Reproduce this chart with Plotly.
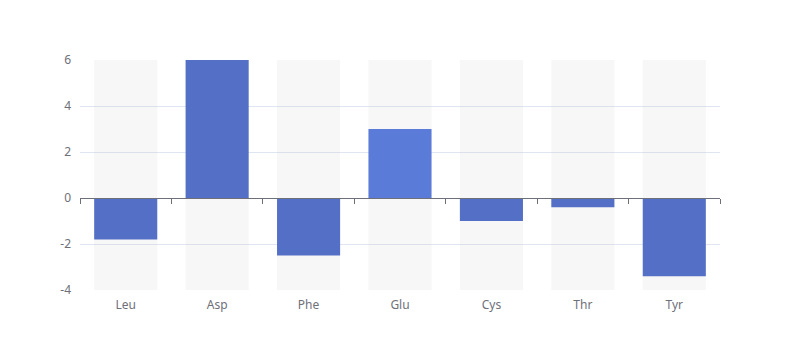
import plotly.graph_objects as go

categories = ["Leu", "Asp", "Phe", "Glu", "Cys", "Thr", "Tyr"]
values = [-1.8, 6, -2.5, 3, -1, -0.4, -3.4]
y_min, y_max = -4, 6
y_ticks = [-4, -2, 0, 2, 4, 6]
y_tick_labels = ["-4", "-2", "0", "2", "4", "6"]

base_color = "#5470c6"
highlight_color = "#5b7bd8"
colors = [highlight_color if c == "Glu" else base_color for c in categories]

fig = go.Figure()
# background bars (full range)
fig.add_trace(go.Bar(
    x=categories, y=[y_max - y_min] * len(categories), base=[y_min] * len(categories),
    marker=dict(color="rgba(180,180,180,0.1)", line=dict(width=0)),
    width=0.69, hoverinfo="skip", showlegend=False,
))
fig.add_trace(go.Bar(
    x=categories, y=values, marker=dict(color=colors, line=dict(width=0)),
    width=0.69, showlegend=False,
))
# invisible trace for the zero axis line with boundary ticks
fig.add_trace(go.Scatter(
    x=categories, y=[None] * len(categories), xaxis="x2", yaxis="y",
    showlegend=False, hoverinfo="skip",
))

font = dict(family="Noto Sans, DejaVu Sans, sans-serif", size=12, color="#6E7079")
fig.update_layout(
    width=800, height=360,
    margin=dict(l=72, r=88, t=52, b=78),
    paper_bgcolor="white", plot_bgcolor="white",
    barmode="overlay",
    font=font,
    xaxis=dict(
        type="category", categoryorder="array", categoryarray=categories,
        range=[-0.5, len(categories) - 0.5],
        showline=False, showgrid=False, zeroline=False, ticks="",
        ticklabelstandoff=6,
    ),
    xaxis2=dict(
        type="category", categoryorder="array", categoryarray=categories,
        range=[-0.5, len(categories) - 0.5],
        overlaying="x", anchor="free",
        position=(0 - y_min) / (y_max - y_min),
        showline=True, linecolor="#6E7079", linewidth=1,
        ticks="outside", tickson="boundaries", ticklen=5, tickcolor="#6E7079",
        showticklabels=False, showgrid=False, zeroline=False,
    ),
    yaxis=dict(
        range=[y_min, y_max], tickvals=y_ticks, ticktext=y_tick_labels,
        showgrid=True, gridcolor="#E0E6F1", gridwidth=1,
        zeroline=False, showline=False, ticks="",
        ticklabelstandoff=8,
    ),
)

fig.write_html("out.html")
